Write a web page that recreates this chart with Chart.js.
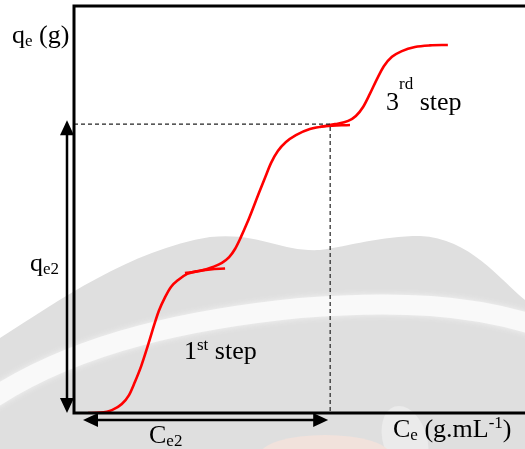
<!DOCTYPE html>
<html>
<head>
<meta charset="utf-8">
<script src="https://cdn.jsdelivr.net/npm/chart.js@4/dist/chart.umd.min.js"></script>
<style>
    html, body { margin: 0; padding: 0; background: #fff; }
    #wrap { width: 525px; height: 449px; position: relative; }
</style>
</head>
<body>
<div id="wrap"><canvas id="steps-chart"></canvas></div>
<script>
// three adsorption steps (x = Ce, y = qe, arbitrary 0..100 units)
const step1X = [3.1, 5.8, 8.4, 10.6, 12.2, 13.5, 14.9, 16.2, 17.5, 18.8, 20.2, 21.5, 23.1, 25.1, 27.5, 30.2, 33.5];
const step1Y = [0, 0.1, 0.7, 2.2, 4.4, 7.6, 11.5, 15.9, 20.6, 25.0, 28.4, 30.9, 32.6, 34.1, 34.8, 35.2, 35.4];

const step2X = [24.6, 27.9, 30.8, 32.8, 34.4, 35.7, 37.0, 38.4, 39.7, 41.0, 42.4, 43.7, 45.2, 47.0, 49.2, 52.3, 55.7, 61.2];
const step2Y = [34.3, 34.8, 35.8, 36.8, 38.2, 40.2, 43.1, 46.6, 50.2, 53.9, 57.8, 61.3, 64.2, 66.4, 68.1, 69.6, 70.3, 70.6];

const step3X = [54.5, 57.9, 60.8, 62.5, 64.1, 65.6, 67.2, 68.7, 70.5, 72.7, 75.6, 78.9, 82.9];
const step3Y = [70.1, 70.8, 71.6, 72.8, 75.0, 78.2, 81.9, 85.0, 87.3, 88.7, 89.7, 90.1, 90.2];

// end of the 2nd step
const ce2 = 56.8;
const qe2 = 70.8;

const toPoints = (xs, ys) => xs.map((x, i) => ({ x: x, y: ys[i] }));

const FONT = '"Liberation Serif", "Times New Roman", serif';

function rich(ctx, x, y, parts) {
    let cx = x;
    parts.forEach(p => {
        ctx.font = p.s + "px " + FONT;
        ctx.fillText(p.t, cx, y + (p.dy || 0));
        cx += ctx.measureText(p.t).width;
    });
}

function arrowHead(ctx, tipX, tipY, dirX, dirY) {
    const len = 15, half = 7;
    const bx = tipX - dirX * len, by = tipY - dirY * len;
    ctx.beginPath();
    ctx.moveTo(tipX, tipY);
    ctx.lineTo(bx - dirY * half, by + dirX * half);
    ctx.lineTo(bx + dirY * half, by - dirX * half);
    ctx.closePath();
    ctx.fill();
}

// faint watermark behind the drawing
const backdrop = {
    id: "backdrop",
    beforeDraw(chart) {
        const ctx = chart.ctx;
        ctx.save();
        ctx.fillStyle = "#fff";
        ctx.fillRect(0, 0, chart.width, chart.height);

        ctx.fillStyle = "#dfdfdf";
        ctx.beginPath();
        ctx.moveTo(0, 338);
        ctx.bezierCurveTo(60, 300, 130, 250, 210, 237);
        ctx.bezierCurveTo(260, 232, 280, 252, 320, 250);
        ctx.bezierCurveTo(350, 246, 380, 236, 420, 236);
        ctx.bezierCurveTo(470, 238, 500, 280, 525, 300);
        ctx.lineTo(525, 449);
        ctx.lineTo(0, 449);
        ctx.closePath();
        ctx.fill();

        // light band
        ctx.strokeStyle = "#f9f9f9";
        ctx.lineWidth = 20;
        ctx.shadowColor = "#f4f4f4";
        ctx.shadowBlur = 6;
        ctx.beginPath();
        ctx.moveTo(-10, 400);
        ctx.bezierCurveTo(80, 340, 200, 318, 300, 308);
        ctx.bezierCurveTo(400, 300, 470, 305, 535, 325);
        ctx.stroke();
        ctx.shadowBlur = 0;

        // lighter blob and faint peach patch near the bottom
        ctx.fillStyle = "#ebebeb";
        ctx.beginPath();
        ctx.ellipse(405, 440, 22, 35, -0.3, 0, Math.PI * 2);
        ctx.fill();
        ctx.fillStyle = "#f1e2dc";
        ctx.beginPath();
        ctx.ellipse(325, 455, 65, 20, 0, 0, Math.PI * 2);
        ctx.fill();
        ctx.restore();
    }
};

// frame, double arrows and the text
const sketch = {
    id: "sketch",
    afterDatasetsDraw(chart) {
        const ctx = chart.ctx;
        const a = chart.chartArea;
        const sx = chart.scales.x, sy = chart.scales.y;
        ctx.save();

        ctx.strokeStyle = "#000";
        ctx.lineWidth = 3;
        ctx.beginPath();
        ctx.moveTo(a.right + 2, a.top + 1);
        ctx.lineTo(a.left, a.top + 1);
        ctx.lineTo(a.left, a.bottom);
        ctx.lineTo(a.right + 2, a.bottom);
        ctx.stroke();

        // vertical arrow for qe2
        const vx = a.left - 7;
        const vTop = sy.getPixelForValue(qe2) - 4;
        const vBot = sy.getPixelForValue(0);
        ctx.fillStyle = "#000";
        ctx.lineWidth = 2.5;
        ctx.beginPath();
        ctx.moveTo(vx, vTop + 8);
        ctx.lineTo(vx, vBot - 8);
        ctx.stroke();
        arrowHead(ctx, vx, vTop, 0, -1);
        arrowHead(ctx, vx, vBot, 0, 1);

        // horizontal arrow for Ce2
        const hy = a.bottom + 7;
        const hL = sx.getPixelForValue(2);
        const hR = sx.getPixelForValue(ce2) - 2;
        ctx.beginPath();
        ctx.moveTo(hL + 8, hy);
        ctx.lineTo(hR - 8, hy);
        ctx.stroke();
        arrowHead(ctx, hL, hy, -1, 0);
        arrowHead(ctx, hR, hy, 1, 0);

        ctx.fillStyle = "#000";
        ctx.textBaseline = "alphabetic";
        rich(ctx, 12, 43, [{ t: "q", s: 26 }, { t: "e", s: 17, dy: 3 }, { t: " (g)", s: 26 }]);
        rich(ctx, 30, 271, [{ t: "q", s: 26 }, { t: "e2", s: 17, dy: 3 }]);
        rich(ctx, 149, 443, [{ t: "C", s: 26 }, { t: "e2", s: 17, dy: 3 }]);
        rich(ctx, 393, 437, [
            { t: "C", s: 26 }, { t: "e", s: 17, dy: 3 }, { t: " (g.mL", s: 26 },
            { t: "-1", s: 17, dy: -9 }, { t: ")", s: 26 }
        ]);
        rich(ctx, 184, 359, [{ t: "1", s: 26 }, { t: "st", s: 17, dy: -9 }, { t: " step", s: 26 }]);
        rich(ctx, 386, 110, [{ t: "3", s: 26 }, { t: "rd", s: 17, dy: -21 }, { t: " step", s: 26 }]);
        ctx.restore();
    }
};

const stepStyle = {
    borderColor: "#ff0000",
    borderWidth: 2.6,
    pointRadius: 0,
    fill: false,
    cubicInterpolationMode: "monotone"
};

const chartData = {
    datasets: [
        {
            data: [{ x: 0, y: qe2 }, { x: ce2, y: qe2 }, { x: ce2, y: 0 }],
            borderColor: "#222",
            borderWidth: 1.2,
            borderDash: [4, 3],
            pointRadius: 0,
            tension: 0
        },
        Object.assign({ data: toPoints(step1X, step1Y) }, stepStyle),
        Object.assign({ data: toPoints(step2X, step2Y) }, stepStyle),
        Object.assign({ data: toPoints(step3X, step3Y) }, stepStyle)
    ]
};

const chartOptions = {
    responsive: true,
    maintainAspectRatio: false,
    animation: false,
    layout: {
        padding: { left: 74, top: 5, right: 0, bottom: 36 }
    },
    plugins: {
        legend: { display: false },
        tooltip: { enabled: false }
    },
    scales: {
        x: { type: "linear", min: 0, max: 100, display: false },
        y: { type: "linear", min: 0, max: 100, display: false }
    }
};

new Chart(document.getElementById("steps-chart"), {
    type: "line",
    data: chartData,
    options: chartOptions,
    plugins: [backdrop, sketch]
});
</script>
</body>
</html>
